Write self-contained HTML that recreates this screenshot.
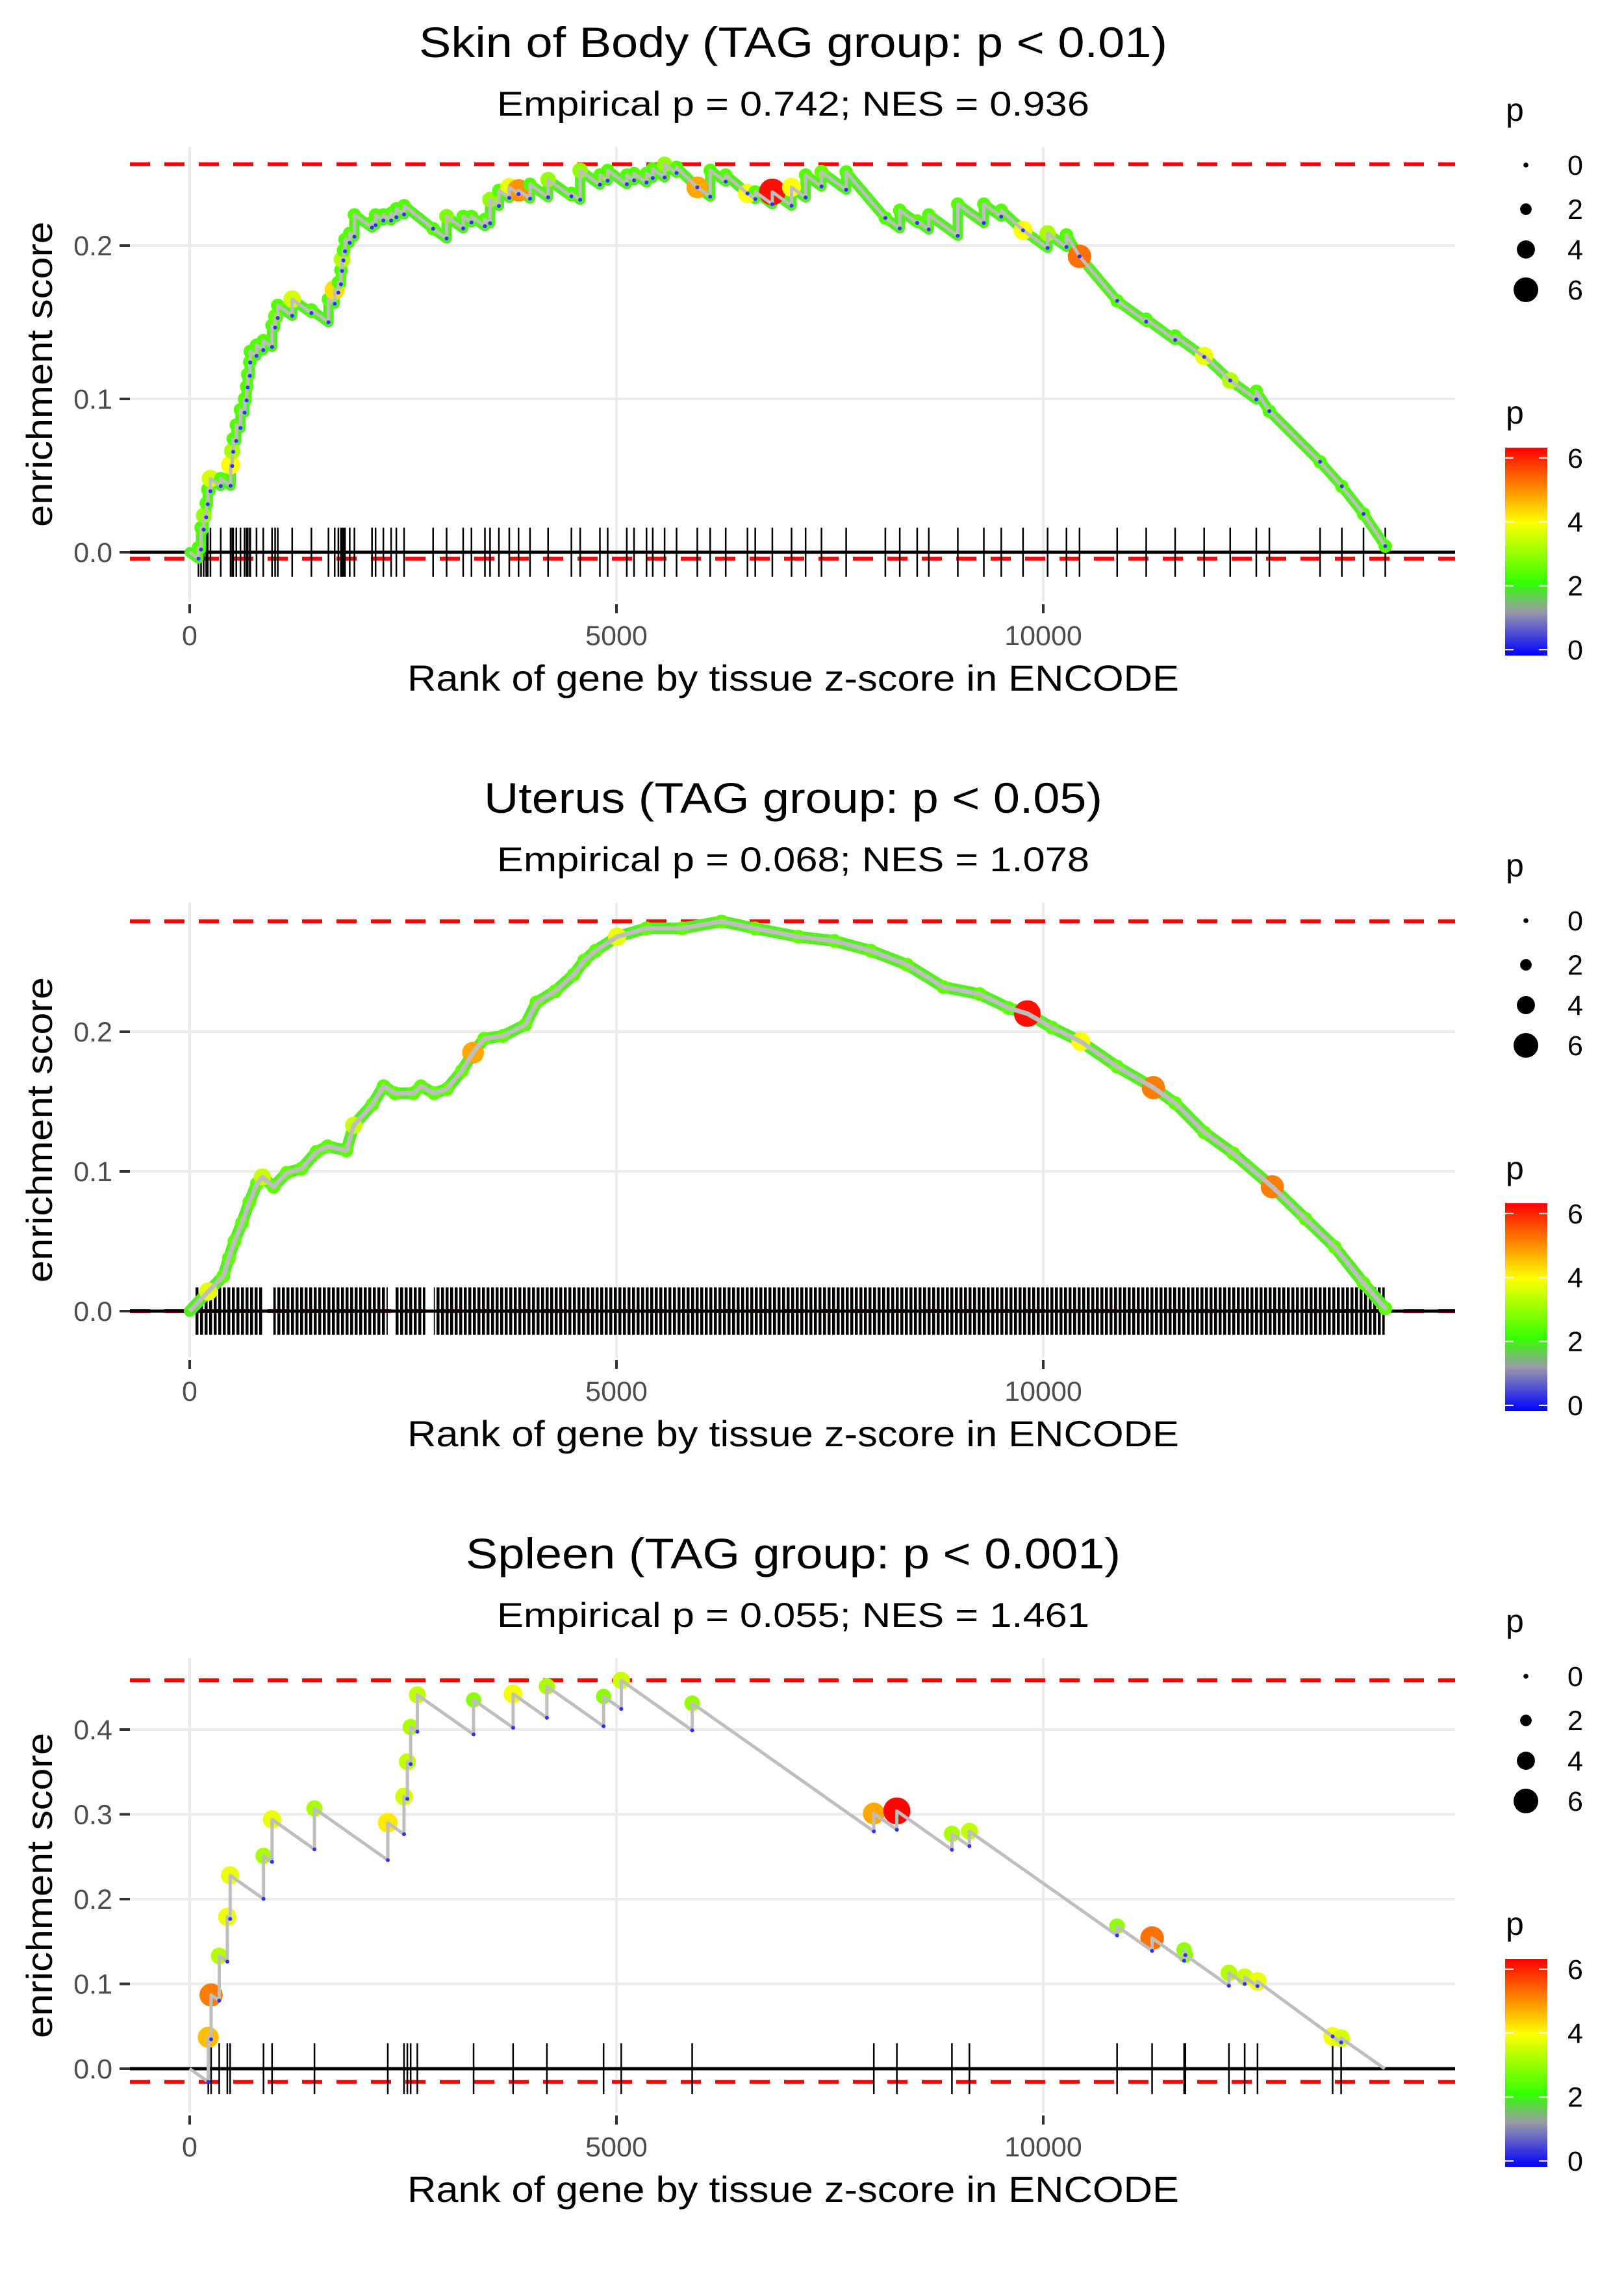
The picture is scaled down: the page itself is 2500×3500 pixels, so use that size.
<!DOCTYPE html>
<html><head><meta charset="utf-8"><style>
html,body{margin:0;padding:0;background:#fff;}
svg{display:block;font-family:"Liberation Sans",Arial,sans-serif;}
</style></head><body>
<svg id="fig" width="2500" height="3500" viewBox="0 0 2500 3500" xmlns="http://www.w3.org/2000/svg">
<defs>
<linearGradient id="pgrad" x1="0" y1="1" x2="0" y2="0">
<stop offset="0" stop-color="#0000ff"/><stop offset="0.211" stop-color="#9a9aa8"/><stop offset="0.349" stop-color="#33ff00"/><stop offset="0.640" stop-color="#ffff00"/><stop offset="1" stop-color="#ff0000"/>
</linearGradient>
<pattern id="rugpat" width="7" height="10" patternUnits="userSpaceOnUse"><rect x="0" y="0" width="4.5" height="10" fill="#000"/></pattern>
</defs>
</svg>
<script>
// ---- Panel 1: Skin of Body ----
const ranks1=[103,133,164,194,212,243,364,479,498,510,546,595,643,667,680,704,710,783,862,965,1001,1032,1201,1426,1626,1699,1742,1772,1785,1802,1820,1875,1930,2136,2178,2269,2360,2421,2512,2852,3010,3204,3301,3459,3519,3623,3744,3853,3987,4199,4472,4575,4806,4897,5121,5206,5352,5425,5564,5704,5947,6098,6280,6535,6626,6826,7051,7216,7402,7691,8150,8319,8523,8659,8999,9304,9508,9763,10051,10272,10425,10866,11206,11545,11885,12190,12496,12649,13243,13498,13752,14007];
const es1=[.003,.016,.024,.032,.041,.048,.048,.057,.066,.074,.083,.093,.100,.108,.116,.124,.131,.135,.138,.148,.154,.161,.165,.158,.165,.171,.176,.184,.191,.197,.204,.208,.220,.215,.220,.220,.221,.224,.226,.211,.219,.219,.219,.217,.230,.236,.238,.236,.240,.243,.234,.249,.246,.249,.246,.247,.247,.250,.253,.251,.238,.249,.246,.234,.235,.235,.238,.246,.248,.248,.218,.223,.216,.220,.227,.227,.223,.210,.208,.207,.193,.164,.152,.141,.128,.112,.105,.092,.059,.043,.025,.004];
const p1=[2.4,2.4,3.0,2.4,2.4,3.6,2.4,4.0,3.2,2.4,2.4,2.4,2.4,2.4,2.4,2.4,2.4,2.4,2.4,2.4,2.6,2.4,3.6,2.4,2.4,4.3,2.4,2.4,3.3,2.4,2.4,2.4,2.4,2.4,2.4,2.4,2.4,2.4,2.4,2.4,2.8,2.4,2.4,2.4,3.0,2.4,3.8,5.0,2.4,3.0,2.4,3.0,2.4,2.4,2.4,2.4,2.4,2.4,3.0,2.4,4.8,2.4,2.4,4.0,2.4,6.2,4.0,2.4,2.6,2.4,2.4,2.4,2.4,2.4,2.4,2.4,2.4,4.0,3.2,2.4,5.3,2.4,2.4,2.4,3.8,3.3,2.4,2.4,2.4,2.4,2.4,2.4];
const slope1=4e-5;
// ---- Panel 2: Uterus ----
const ranks2=[218,393,459,524,612,699,786,852,983,1136,1311,1485,1617,1835,1922,2141,2272,2403,2621,2709,2862,3014,3189,3320,3451,3670,3932,4063,4281,4500,4622,4754,5008,5348,5772,6231,6621,7131,7555,7980,8404,8829,9253,9593,9813,10102,10441,10866,11290,11545,11885,12224,12683,13073,13413,13752,14007];
const es2=[.014,.025,.038,.050,.063,.078,.091,.096,.089,.099,.102,.114,.118,.115,.133,.148,.161,.156,.156,.161,.156,.159,.172,.185,.195,.197,.205,.221,.229,.241,.251,.258,.268,.274,.274,.279,.274,.268,.265,.258,.248,.232,.227,.217,.213,.203,.193,.175,.160,.149,.128,.113,.089,.066,.046,.020,.002];
const p2=[3.8,2.5,2.5,2.5,2.5,2.5,2.5,3.5,2.5,2.5,2.5,2.5,2.5,2.5,3.5,2.5,2.5,2.5,2.5,2.5,2.5,2.5,2.5,4.8,2.5,2.5,2.5,2.5,2.5,2.5,2.5,2.5,3.8,2.5,2.5,2.5,2.5,2.5,2.5,2.5,2.5,2.5,2.5,2.5,6.2,2.5,4.0,2.5,5.2,2.5,2.5,2.5,5.2,2.5,2.5,2.5,2.5];
const slope2=0;
const rugBands2=[[60,860],[980,2320],[2400,2760],[2860,14000]];
// ---- Panel 3: Spleen ----
const ranks3=[218,251,346,441,474,865,965,1462,2321,2511,2550,2589,2667,3326,3789,4185,4849,5056,5887,8015,8285,8930,9135,10865,11275,11650,11665,12175,12360,12510,13390,13490];
const es3=[.037,.087,.133,.179,.228,.251,.294,.307,.290,.321,.362,.403,.441,.435,.442,.451,.439,.458,.431,.301,.304,.277,.280,.168,.154,.140,.134,.113,.108,.103,.038,.036];
const p3=[4.6,5.2,3.3,3.8,3.8,3.2,3.8,3.2,4.2,3.6,3.4,3.2,3.4,2.9,3.9,3.2,2.9,3.5,3.0,4.8,6.3,3.2,3.4,3.0,5.3,3.0,3.0,3.3,3.5,3.8,3.9,3.6];
const slope3=7.1e-5;
// ---- shared ----
const xTicks=[0,5000,10000];
const yTicks12=[0,0.1,0.2];
const yTicks3=[0,0.1,0.2,0.3,0.4];
const legendSizes=[0,2,4,6];
const N=14000;

const NS="http://www.w3.org/2000/svg";
const svg=document.getElementById('fig');
function mk(tag,attrs,parent){const e=document.createElementNS(NS,tag);for(const k in attrs)e.setAttribute(k,attrs[k]);(parent||svg).appendChild(e);return e;}
const stops=[[0,[0,0,255]],[1.2,[154,154,168]],[2.1,[51,255,0]],[4.0,[255,255,0]],[6.35,[255,0,0]]];
function pcol(p){if(p<=stops[0][0])return 'rgb(0,0,255)';for(let i=1;i<stops.length;i++){if(p<=stops[i][0]){const a=stops[i-1],b=stops[i];const t=(p-a[0])/(b[0]-a[0]);const c=a[1].map((v,j)=>Math.round(v+(b[1][j]-v)*t));return 'rgb('+c.join(',')+')';}}return 'rgb(255,0,0)';}
function prad(p){return 4+2.67*p;}

const panels=[
 {title:"Skin of Body (TAG group: p < 0.01)",tl:1152,sub:"Empirical p = 0.742; NES = 0.936",ranks:ranks1,es:es1,p:p1,slope:slope1,y0:850,k:2360,yt:yTicks12,band:true,rugBands:null},
 {title:"Uterus (TAG group: p < 0.05)",tl:952,sub:"Empirical p = 0.068; NES = 1.078",ranks:ranks2,es:es2,p:p2,slope:slope2,y0:855,k:2150,yt:yTicks12,band:true,rugBands:rugBands2},
 {title:"Spleen (TAG group: p < 0.001)",tl:1008,sub:"Empirical p = 0.055; NES = 1.461",ranks:ranks3,es:es3,p:p3,slope:slope3,y0:858,k:1305,yt:yTicks3,band:false,rugBands:null}
];

panels.forEach((P,pi)=>{
 const g=mk('g',{transform:'translate(0,'+(pi*1163)+')'});
 
 
 const xs=r=>292+r*0.1314;
 const ys=e=>P.y0-e*P.k;
 let t=mk('text',{x:1221,y:88,'font-size':66,'text-anchor':'middle',fill:'#000',textLength:P.tl,lengthAdjust:'spacingAndGlyphs'},g);t.textContent=P.title;
 
 
 t=mk('text',{x:1221,y:178,'font-size':53,'text-anchor':'middle',fill:'#000',textLength:912,lengthAdjust:'spacingAndGlyphs'},g);t.textContent=P.sub;
 
 
 P.yt.forEach(v=>{const l=mk('line',{x1:200,x2:2240,y1:ys(v),y2:ys(v),stroke:'#ebebeb','stroke-width':4},g);
  
  
  const tk=mk('line',{x1:184,x2:200,y1:ys(v),y2:ys(v),stroke:'#333','stroke-width':4},g);
  
  
  const tx=mk('text',{x:173,y:ys(v)+15,'font-size':43,'text-anchor':'end',fill:'#4d4d4d'},g);tx.textContent=v.toFixed(1);
  
  });
 xTicks.forEach(v=>{const l=mk('line',{x1:xs(v),x2:xs(v),y1:226,y2:926,stroke:'#ebebeb','stroke-width':4},g);
  
  
  const tk=mk('line',{x1:xs(v),x2:xs(v),y1:930,y2:944,stroke:'#333','stroke-width':4},g);
  
  
  const tx=mk('text',{x:xs(v),y:993,'font-size':43,'text-anchor':'middle',fill:'#4d4d4d'},g);tx.textContent=String(v);
  
  });
 t=mk('text',{x:1221,y:1063,'font-size':56,'text-anchor':'middle',fill:'#000',textLength:1188,lengthAdjust:'spacingAndGlyphs'},g);t.textContent="Rank of gene by tissue z-score in ENCODE";
 
 
 t=mk('text',{x:0,y:0,'font-size':56,'text-anchor':'middle',fill:'#000',transform:'translate(80,'+((226+926)/2)+') rotate(-90)',textLength:470,lengthAdjust:'spacingAndGlyphs'},g);t.textContent="enrichment score";
 
 
 const pts=[[0,0]];const bottoms=[];let prevR=0,prevE=0,maxE=0,minE=0;
 P.ranks.forEach((r,i)=>{let b=prevE-P.slope*(r-prevR);if(b>P.es[i])b=P.es[i];bottoms.push(b);if(P.slope>0)pts.push([r,b]);pts.push([r,P.es[i]]);maxE=Math.max(maxE,P.es[i]);minE=Math.min(minE,b);prevR=r;prevE=P.es[i];});
 pts.push([N,Math.max(0,prevE-P.slope*(N-prevR))]);
 [maxE,minE].forEach((v,j)=>{const l=mk('line',{x1:200,x2:2240,y1:ys(v),y2:ys(v),stroke:'#ff0000','stroke-width':6,'stroke-dasharray':'31 22'},g);
  
  });
 if(P.rugBands){P.rugBands.forEach(b=>{const rr=mk('rect',{x:xs(b[0]),y:ys(0.017),width:xs(b[1])-xs(b[0]),height:ys(-0.017)-ys(0.017),fill:'url(#rugpat)'},g);
  
  });}
 else{P.ranks.forEach(r=>{const h=pi==2?0.03:0.016;const l=mk('line',{x1:xs(r),x2:xs(r),y1:ys(h),y2:ys(-h),stroke:'#000','stroke-width':2.5},g);
  
  });}
 const z=mk('line',{x1:200,x2:2240,y1:ys(0),y2:ys(0),stroke:'#000','stroke-width':5},g);
 
 
 const dstr=pts.map((q,i)=>(i?'L':'M')+xs(q[0]).toFixed(1)+','+ys(q[1]).toFixed(1)).join(' ');
 if(P.band){const bd=mk('path',{d:dstr,fill:'none',stroke:'#55ee22','stroke-width':pi==1?18:16,'stroke-linejoin':'round','stroke-linecap':'round'},g);
  
  }
 P.ranks.forEach((r,i)=>{const c=mk('circle',{cx:xs(r),cy:ys(P.es[i]),r:prad(P.p[i]),fill:pcol(P.p[i])},g);
  
  });
 const ln=mk('path',{d:dstr,fill:'none',stroke:'#bebebe','stroke-width':pi==1?7:5,'stroke-linejoin':'round'},g);
 
 
 if(P.slope>0){P.ranks.forEach((r,i)=>{const c=mk('circle',{cx:xs(r),cy:ys(bottoms[i]),r:3,fill:'#3030ff'},g);
  
  });}
 t=mk('text',{x:2318,y:186,'font-size':50,fill:'#000'},g);t.textContent='p';
 
 
 const ly=[254,322,384,446];
 legendSizes.forEach((v,i)=>{const c=mk('circle',{cx:2349,cy:ly[i],r:prad(v)*0.95,fill:'#000'},g);
  
  
  const tx=mk('text',{x:2413,y:ly[i]+15,'font-size':43,fill:'#000'},g);tx.textContent=String(v);
  
  });
 t=mk('text',{x:2318,y:652,'font-size':50,fill:'#000'},g);t.textContent='p';
 
 
 const cb=mk('rect',{x:2317,y:689,width:65,height:320,fill:'url(#pgrad)'},g);
 
 
 legendSizes.forEach(v=>{const yy=1000-v*49.2;
  mk('line',{x1:2317,x2:2330,y1:yy,y2:yy,stroke:'#fff','stroke-width':2},g);
  mk('line',{x1:2369,x2:2382,y1:yy,y2:yy,stroke:'#fff','stroke-width':2},g);
  const tx=mk('text',{x:2413,y:yy+15,'font-size':43,fill:'#000'},g);tx.textContent=String(v);
  
  });
});
</script>
</body></html>
